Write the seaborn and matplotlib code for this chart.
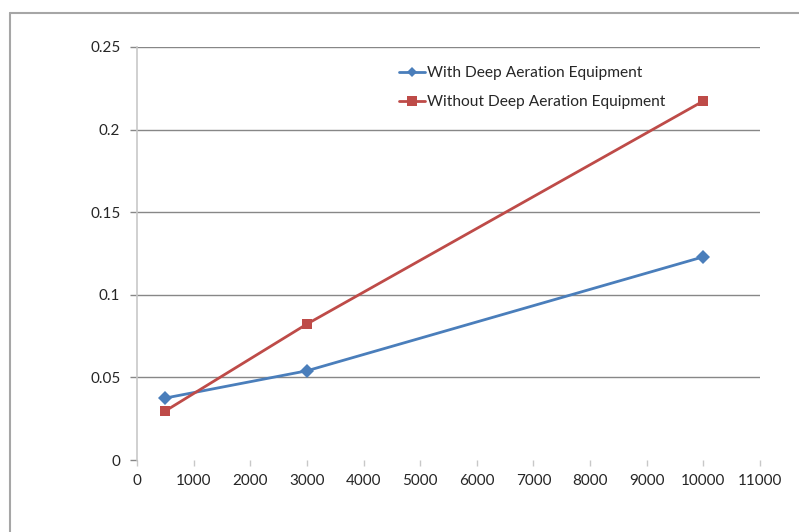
import matplotlib
matplotlib.use("Agg")
import matplotlib.pyplot as plt
from matplotlib.lines import Line2D
from matplotlib.ticker import FuncFormatter
import numpy as np
import pandas as pd
import seaborn as sns

# Series values
x_values = [500, 3000, 10000]
with_deep = [0.0375, 0.054, 0.123]
without_deep = [0.0297, 0.0823, 0.2173]
series_names = ["With Deep Aeration Equipment", "Without Deep Aeration Equipment"]

x_ticks = list(range(0, 11001, 1000))
y_ticks = [0, 0.05, 0.1, 0.15, 0.2, 0.25]

df = pd.DataFrame({
    "x": x_values * 2,
    "y": with_deep + without_deep,
    "series": [series_names[0]] * 3 + [series_names[1]] * 3,
})

sns.set_style("white")
plt.rcParams["font.family"] = ["Lato", "DejaVu Sans"]

W, H = 799, 532
fig = plt.figure(figsize=(W / 100, H / 100), dpi=100)
ax = fig.add_axes([137 / W, (H - 460) / H, (760 - 137) / W, (460 - 47) / H])

blue = "#4A7EBB"
red = "#BE4B48"
palette = {series_names[0]: blue, series_names[1]: red}
markers = {series_names[0]: "D", series_names[1]: "s"}

sns.lineplot(data=df, x="x", y="y", hue="series", style="series",
             palette=palette, markers=markers, dashes=False,
             linewidth=2.0, markersize=7, markeredgewidth=0,
             legend=False, ax=ax, zorder=3)
for line in ax.get_lines():
    line.set_solid_capstyle("round")

ax.set_xlim(0, 11000)
ax.set_ylim(0, 0.25)
ax.set_xticks(x_ticks)
ax.set_yticks(y_ticks)
ax.yaxis.set_major_formatter(FuncFormatter(lambda v, p: f"{v:g}"))
ax.set_xlabel("")
ax.set_ylabel("")

grid_color = "#878787"
for yv in y_ticks[1:]:
    ax.axhline(yv, color=grid_color, linewidth=1.0, zorder=1)

for side in ["top", "right", "bottom"]:
    ax.spines[side].set_visible(False)
ax.spines["left"].set_color("#C8C8C8")
ax.spines["left"].set_linewidth(1.2)

ax.tick_params(axis="y", which="major", length=5, width=1.0, color=grid_color,
               labelsize=11, labelcolor="#262626", pad=7, left=True)
ax.tick_params(axis="x", which="major", length=4, width=1.0, color="#C8C8C8",
               labelsize=11, labelcolor="#262626", pad=6, bottom=True, direction="out")

handles = [
    Line2D([0], [0], color=blue, marker="D", markersize=5.5, linewidth=2.0, markeredgewidth=0),
    Line2D([0], [0], color=red, marker="s", markersize=7, linewidth=2.0, markeredgewidth=0),
]
fig.legend(handles, series_names, loc="upper left",
           bbox_to_anchor=(399 / W, (H - 66) / H), frameon=False,
           fontsize=11.2, handlelength=1.65, handletextpad=0.12,
           labelspacing=0.98, borderpad=0, borderaxespad=0,
           labelcolor="#262626")

# Outer chart frame
frame_kw = dict(color="#A6A6A6", linewidth=1.5, transform=fig.transFigure)
fig.add_artist(Line2D([10 / W, 10 / W], [0, (H - 13) / H], **frame_kw))
fig.add_artist(Line2D([10 / W, 1], [(H - 13) / H, (H - 13) / H], **frame_kw))

fig.savefig("out.png", dpi=100, facecolor="white")
